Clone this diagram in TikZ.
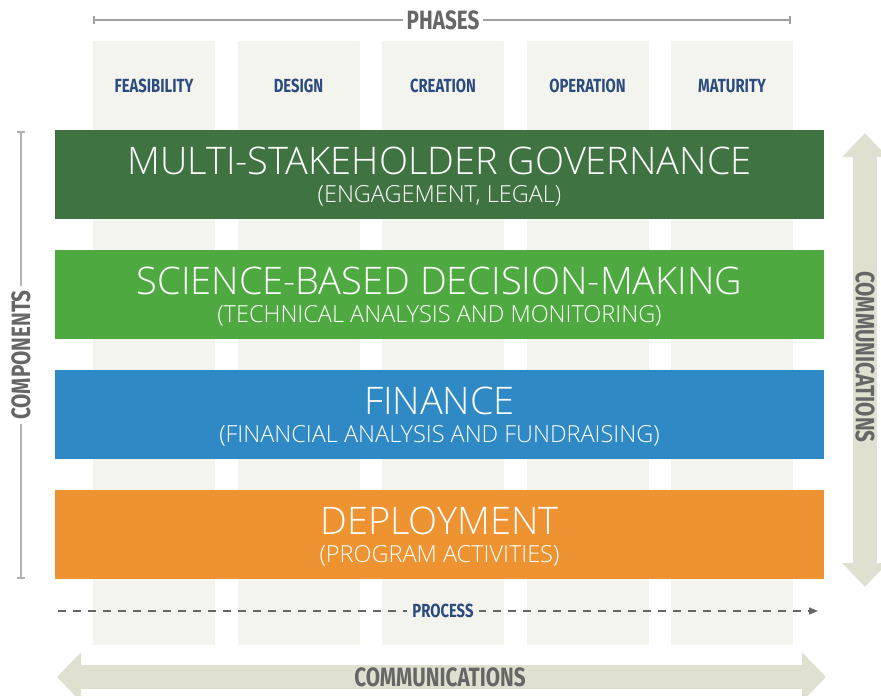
\documentclass[tikz,border=0pt]{standalone}
\usepackage{fontspec}
\usepackage{xcolor}
\newfontfamily\lightfont{Open Sans Light}
\newfontfamily\condfont{Fira Sans}[FakeStretch=0.78]
\usetikzlibrary{arrows.meta, positioning, calc}

\definecolor{colfill}{HTML}{F4F4EF}
\definecolor{labelblue}{HTML}{2B4C7E}
\definecolor{govgreen}{HTML}{3F7341}
\definecolor{scigreen}{HTML}{4EAA40}
\definecolor{finblue}{HTML}{2F89C5}
\definecolor{deporange}{HTML}{EE9331}
\definecolor{commfill}{HTML}{DFE0D0}
\definecolor{sidegray}{HTML}{666666}

\newcommand{\bandtitle}[1]{{\lightfont\fontsize{38}{40}\selectfont #1}}
\newcommand{\bandsub}[1]{{\lightfont\fontsize{23.5}{25}\selectfont #1}}

\begin{document}
\begin{tikzpicture}[x=1pt, y=-1pt,
    phasecol/.style={fill=colfill, minimum width=122pt, minimum height=604pt, inner sep=0pt},
    phaselabel/.style={font=\condfont\bfseries\fontsize{19}{20}\selectfont, text=labelblue},
    band/.style={minimum width=769pt, minimum height=89pt, inner sep=0pt},
    bandtext/.style={text=white, anchor=base, inner sep=0pt},
    sidetext/.style={font=\condfont\bfseries\fontsize{26.5}{28}\selectfont, text=sidegray, inner sep=4pt},
    rule/.style={draw=gray!75, line width=1.5pt}]

    \useasboundingbox (0,0) rectangle (881,696);

    % phase columns
    \foreach \i/\ph in {0/FEASIBILITY,1/DESIGN,2/CREATION,3/OPERATION,4/MATURITY} {
        \node[phasecol] (col\i) at (154+144.5*\i, 343) {};
        \node[phaselabel] (lab\i) at (154+144.5*\i, 86) {\ph};
    }

    % phases rule
    \coordinate (phL) at (93,20);
    \coordinate (phR) at (791,20);
    \draw[rule, {Bar[width=8pt,line width=2pt]}-{Bar[width=8pt,line width=2pt]}] (phL) -- (phR);
    \node[sidetext, fill=white] (phases) at (443,20) {PHASES};

    % components
    \node[band, fill=govgreen] (gov) at (439.5,174.5) {};
    \node[band, fill=scigreen] (sci) at (439.5,294.5) {};
    \node[band, fill=finblue] (fin) at (439.5,414.5) {};
    \node[band, fill=deporange] (dep) at (439.5,534.5) {};

    \node[bandtext] at ([yshift=-45pt]gov.north) {\bandtitle{MULTI-STAKEHOLDER GOVERNANCE}};
    \node[bandtext] at ([yshift=-73pt]gov.north) {\bandsub{(ENGAGEMENT, LEGAL)}};
    \node[bandtext] at ([yshift=-45pt]sci.north) {\bandtitle{SCIENCE-BASED DECISION-MAKING}};
    \node[bandtext] at ([yshift=-73pt]sci.north) {\bandsub{(TECHNICAL ANALYSIS AND MONITORING)}};
    \node[bandtext] at ([yshift=-45pt]fin.north) {\bandtitle{FINANCE}};
    \node[bandtext] at ([yshift=-73pt]fin.north) {\bandsub{(FINANCIAL ANALYSIS AND FUNDRAISING)}};
    \node[bandtext] at ([yshift=-45pt]dep.north) {\bandtitle{DEPLOYMENT}};
    \node[bandtext] at ([yshift=-73pt]dep.north) {\bandsub{(PROGRAM ACTIVITIES)}};

    % components rule
    \coordinate (cpT) at (21,131);
    \coordinate (cpB) at (21,579);
    \draw[rule, draw=gray!60, {Bar[width=8pt,line width=2pt]}-{Bar[width=8pt,line width=2pt]}] (cpT) -- (cpB);
    \node[sidetext, fill=white, rotate=90] (comp) at (21,355) {COMPONENTS};

    % process
    \coordinate (prL) at (58,611);
    \coordinate (prR) at (818,611);
    \draw[draw=sidegray, line width=1.2pt, dash pattern=on 8pt off 7pt, -{Triangle[length=9pt,width=7pt]}] (prL) -- (prR);
    \node[phaselabel, fill=colfill, inner sep=5pt] (proc) at (443,611) {PROCESS};

    % communications arrows
    \coordinate (cvT) at (865,133);
    \coordinate (cvB) at (865,587);
    \draw[commfill, line width=24pt, {Triangle[length=24pt,width=44pt]}-{Triangle[length=24pt,width=44pt]}] (cvT) -- (cvB);
    \node[sidetext, rotate=-90] (commv) at (865,357) {COMMUNICATIONS};

    \coordinate (chL) at (57,677);
    \coordinate (chR) at (826,677);
    \draw[commfill, line width=24pt, {Triangle[length=24pt,width=48pt]}-{Triangle[length=24pt,width=48pt]}] (chL) -- (chR);
    \node[sidetext] (commh) at (440,677) {COMMUNICATIONS};
\end{tikzpicture}
\end{document}
